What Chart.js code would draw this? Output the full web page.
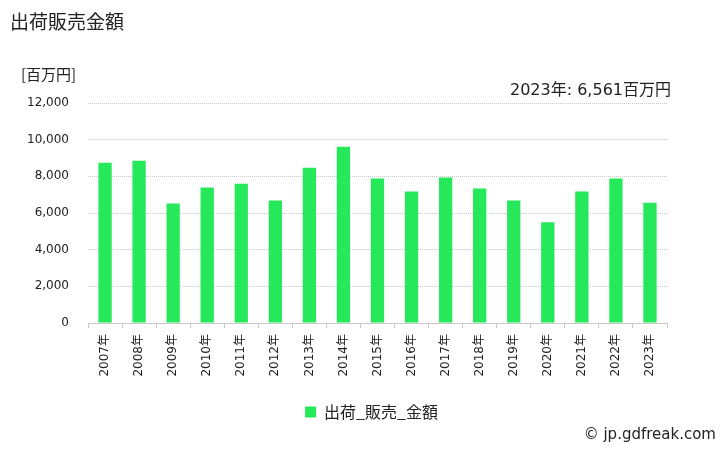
<!DOCTYPE html>
<html lang="ja">
<head>
  <meta charset="UTF-8" />
  <title>出荷販売金額</title>
  <script src="https://cdn.jsdelivr.net/npm/chart.js"></script>
  <style>
    body {
      margin: 0;
      background: white;
      font-family: "DejaVu Sans", "Noto Sans CJK JP", sans-serif;
    }
    .wrap {
      position: relative;
      width: 728px;
      height: 450px;
    }
    .title {
      position: absolute;
      left: 10px;
      top: 7px;
      font-size: 19px;
      font-family: "Noto Sans CJK JP", sans-serif;
      color: #222;
    }
    .unit {
      position: absolute;
      left: 21px;
      top: 63px;
      font-size: 15px;
      font-family: "Noto Sans CJK JP", sans-serif;
      color: #222;
    }
    .latest {
      position: absolute;
      right: 57px;
      top: 76px;
      font-size: 16px;
      color: #222;
    }
    .credit {
      position: absolute;
      right: 12px;
      top: 425px;
      font-size: 15px;
      color: #222;
    }
    canvas {
      position: absolute;
      left: 0;
      top: 0;
    }
  </style>
</head>
<body>
  <div class="wrap">
    <canvas id="chart" width="728" height="450"></canvas>
    <div class="title">出荷販売金額</div>
    <div class="unit">[百万円]</div>
    <div class="latest">2023年: 6,561百万円</div>
    <div class="credit">© jp.gdfreak.com</div>
  </div>

  <script>
    // data
    const years = ["2007年", "2008年", "2009年", "2010年", "2011年", "2012年", "2013年", "2014年", "2015年",
                   "2016年", "2017年", "2018年", "2019年", "2020年", "2021年", "2022年", "2023年"];
    const salesValues = [8740, 8850, 6520, 7390, 7600, 6680, 8470, 9610, 7880,
                         7170, 7930, 7330, 6680, 5490, 7170, 7880, 6561];
    const seriesName = "出荷_販売_金額";
    const barColor = "#25e85a";

    const font = "'DejaVu Sans', 'Noto Sans CJK JP', sans-serif";
    const ctx = document.getElementById("chart").getContext("2d");

    // the legend in the original sits a bit right of the plot's centre
    const legendShift = {
      id: "legendShift",
      afterLayout(chart) {
        chart.legend.left += 38;
        chart.legend.right += 38;
      }
    };

    new Chart(ctx, {
      type: "bar",
      data: {
        labels: years,
        datasets: [{
          label: seriesName,
          data: salesValues,
          backgroundColor: barColor,
          barPercentage: 0.39,
          categoryPercentage: 1.0
        }]
      },
      options: {
        responsive: false,
        animation: false,
        layout: {
          padding: { left: 0, right: 61, top: 103, bottom: 20 }
        },
        scales: {
          x: {
            afterFit: (scale) => { scale.height = 73; },
            grid: {
              drawOnChartArea: false,
              drawTicks: true,
              tickLength: 5,
              color: "#c8c8c8"
            },
            border: { color: "#c8c8c8" },
            ticks: {
              minRotation: 90,
              maxRotation: 90,
              padding: 6,
              color: "#222",
              font: { family: font, size: 12 }
            }
          },
          y: {
            min: 0,
            max: 12000,
            afterFit: (scale) => { scale.width = 88; },
            grid: {
              drawTicks: false,
              color: "#c8c8c8",
              lineWidth: 1
            },
            border: { display: false, dash: [1, 1] },
            ticks: {
              stepSize: 2000,
              padding: 19,
              color: "#222",
              font: { family: font, size: 12 },
              callback: (v) => v.toLocaleString("en-US")
            }
          }
        },
        plugins: {
          legend: {
            position: "bottom",
            labels: {
              boxWidth: 11,
              boxHeight: 11,
              padding: 8,
              color: "#222",
              font: { family: "'Noto Sans CJK JP', sans-serif", size: 16 }
            }
          },
          tooltip: { enabled: false }
        }
      },
      plugins: [legendShift]
    });
  </script>
</body>
</html>
